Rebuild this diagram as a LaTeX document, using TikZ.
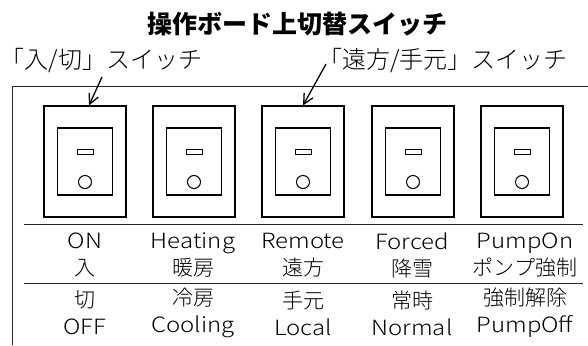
\documentclass[tikz,border=0pt]{standalone}
\usepackage{fontspec}
\newfontfamily\jp{Noto Sans CJK JP}
\newfontfamily\jplight{Noto Sans CJK JP Light}
\newfontfamily\enlight{Noto Sans CJK JP Light}[FakeStretch=1.14]
\newcommand\en[1]{{\enlight #1}}
\usetikzlibrary{arrows.meta}
\tikzset{
  panel/.style    = {draw=black!85, line width=1pt},
  swframe/.style  = {draw, line width=1.1pt, minimum width=82pt,
                     minimum height=111pt, inner sep=0pt},
  swrocker/.style = {swframe, minimum width=55pt, minimum height=67pt},
  swlamp/.style   = {draw, line width=1pt, minimum width=16pt,
                     minimum height=5pt, inner sep=0pt},
  swdot/.style    = {draw, circle, line width=1pt, minimum size=13pt, inner sep=0pt},
  % labels under the switches: two lines each
  lbl/.style      = {font=\jplight\fontsize{21}{27}\selectfont, align=center, inner sep=0pt},
  callout/.style  = {font=\jplight\fontsize{24}{24}\selectfont, inner sep=0pt},
  ptr/.style      = {draw, line width=1.3pt, -{Straight Barb[length=10pt,width=10pt]}},
}

\begin{document}
\begin{tikzpicture}[x=1pt, y=-1pt]
    \useasboundingbox (0,0) rectangle (588,345);

    \node[font=\jp\bfseries\fontsize{25}{25}\selectfont] (title) at (297,24) {操作ボード上切替スイッチ};
    \node[callout, anchor=west] (lblpower) at (0.5,61) {「入/切」スイッチ};
    \node[callout] (lblremote) at (443,61) {「遠方/手元」スイッチ};

    % open panel frame
    \coordinate (fa) at (12,345);
    \coordinate (fb) at (12,86);
    \coordinate (fc) at (588,86);
    \draw[panel] (fa) -- (fb) -- (fc);

    % switches
    \node[swframe] (sw1) at (85,161.5) {};
    \node[swrocker] (rk1) at (sw1) {};
    \node[swlamp] (lp1) at (85,151.5) {};
    \node[swdot] (dt1) at (85,182) {};

    \node[swframe] (sw2) at (194,161.5) {};
    \node[swrocker] (rk2) at (sw2) {};
    \node[swlamp] (lp2) at (194,151.5) {};
    \node[swdot] (dt2) at (194,182) {};

    \node[swframe] (sw3) at (303,161.5) {};
    \node[swrocker] (rk3) at (sw3) {};
    \node[swlamp] (lp3) at (303,151.5) {};
    \node[swdot] (dt3) at (303,182) {};

    \node[swframe] (sw4) at (413,161.5) {};
    \node[swrocker] (rk4) at (sw4) {};
    \node[swlamp] (lp4) at (413,151.5) {};
    \node[swdot] (dt4) at (413,182) {};

    \node[swframe] (sw5) at (522,161.5) {};
    \node[swrocker] (rk5) at (sw5) {};
    \node[swlamp] (lp5) at (522,151.5) {};
    \node[swdot] (dt5) at (522,182) {};

    % pointers from the callouts
    \coordinate (tpower)  at (102,77);
    \coordinate (tremote) at (326,64);
    \draw[ptr] (tpower) -- ([xshift=4pt]sw1.north);
    \draw[ptr] (tremote) -- (sw3.north);

    % table dividers
    \coordinate (d1l) at (24,224);
    \coordinate (d1r) at (583,224);
    \coordinate (d2l) at (24,283);
    \coordinate (d2r) at (583,283);
    \draw[panel] (d1l) -- (d1r);
    \draw[panel] (d2l) -- (d2r);

    \node[lbl] (up1) at (85,255)  {\en{ON}\\入};
    \node[lbl] (up2) at (193,255) {\en{Heating}\\暖房};
    \node[lbl] (up3) at (303,255) {\en{Remote}\\遠方};
    \node[lbl] (up4) at (412,255) {\en{Forced}\\降雪};
    \node[lbl] (up5) at (525,255) {\en{PumpOn}\\ポンプ強制};

    \node[lbl] (dn1) at (85,313)  {切\\\en{OFF}};
    \node[lbl] (dn2) at (193,313) {冷房\\\en{Cooling}};
    \node[lbl] (dn3) at (303,313) {手元\\\en{Local}};
    \node[lbl] (dn4) at (412,313) {常時\\\en{Normal}};
    \node[lbl] (dn5) at (525,313) {強制解除\\\en{PumpOff}};
\end{tikzpicture}
\end{document}
